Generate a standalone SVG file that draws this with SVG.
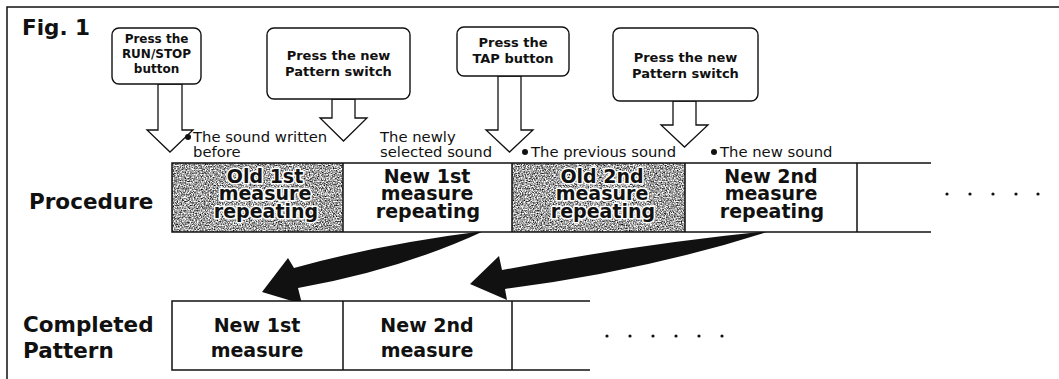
<svg xmlns="http://www.w3.org/2000/svg" width="1059" height="379" viewBox="0 0 1059 379">
<style>
.bx{fill:#fff;stroke:#111;stroke-width:1.4}
.bt{font-family:"DejaVu Sans",sans-serif;font-weight:bold;font-size:13px;fill:#111;text-anchor:middle}
.b1{font-size:12px}
.ha{fill:#fff;stroke:#111;stroke-width:1.3;stroke-linejoin:miter}
.lb{font-family:"DejaVu Sans",sans-serif;font-size:14.8px;fill:#111}
.ct{font-family:"DejaVu Sans",sans-serif;font-weight:bold;font-size:19px;fill:#111;text-anchor:middle}
.cg{stroke:#fff;stroke-width:3;paint-order:stroke;stroke-linejoin:round}
.cc{font-family:"DejaVu Sans",sans-serif;font-weight:bold;font-size:19px;fill:#111;text-anchor:middle}
.hd{font-family:"DejaVu Sans",sans-serif;font-weight:bold;font-size:21.5px;fill:#111}
.ln{stroke:#111;stroke-width:1.5;fill:none}
.cell{fill:#fff;stroke:none}
.dot{fill:#111}
.big{fill:#111}
</style>
<defs>
<filter id="grain" x="0" y="0" width="100%" height="100%" color-interpolation-filters="sRGB">
<feTurbulence type="fractalNoise" baseFrequency="0.75" numOctaves="3" seed="7" result="n"/>
<feColorMatrix in="n" type="matrix" values="1.9 0 0 0 -0.32  1.9 0 0 0 -0.32  1.9 0 0 0 -0.32  0 0 0 0 1"/>
</filter>
</defs>

<rect width="1059" height="379" fill="#fff"/>
<path class="ln" d="M7 379 V7 H1059"/>

<text class="hd" x="22" y="35">Fig. 1</text>

<g id="connectors">
<path class="big" d="M262 292 L288 258 L294 268 Q380 244 484 231 Q400 270 298 288 L302 304 Z"/>
<path class="big" d="M470 284 L499 256 L502 270 Q640 244 770 231 Q650 270 505 289 L507 300 Z"/>
<polygon class="ha" points="158,84 182,84 182,130 193,130 170,152 147,130 158,130"/>
<polygon class="ha" points="332,99 355,99 355,118 367,118 343.5,141 320,118 332,118"/>
<polygon class="ha" points="498,76 521,76 521,130 533,130 509.5,152 486,130 498,130"/>
<polygon class="ha" points="673,101 696,101 696,125 708,125 684.5,147 661,125 673,125"/>
</g>

<g id="box-runstop">
<rect class="bx" x="112" y="28" width="89" height="56" rx="7"/>
<text class="bt b1" x="156.5" y="43">Press the</text>
<text class="bt b1" x="156.5" y="58">RUN/STOP</text>
<text class="bt b1" x="156.5" y="73">button</text>
</g>
<g id="box-pattern1">
<rect class="bx" x="267" y="28" width="143" height="71" rx="7"/>
<text class="bt" x="338.5" y="60">Press the new</text>
<text class="bt" x="338.5" y="76">Pattern switch</text>
</g>
<g id="box-tap">
<rect class="bx" x="457" y="27" width="112" height="49" rx="7"/>
<text class="bt" x="513" y="47">Press the</text>
<text class="bt" x="513" y="63">TAP button</text>
</g>
<g id="box-pattern2">
<rect class="bx" x="613" y="28" width="145" height="73" rx="7"/>
<text class="bt" x="685.5" y="62">Press the new</text>
<text class="bt" x="685.5" y="78">Pattern switch</text>
</g>

<g id="labels">
<circle class="dot" cx="188" cy="137" r="3"/>
<text class="lb" x="193" y="142">The sound written</text>
<text class="lb" x="193" y="157">before</text>
<text class="lb" x="380" y="142">The newly</text>
<text class="lb" x="380" y="157">selected sound</text>
<circle class="dot" cx="525" cy="152" r="3"/>
<text class="lb" x="531" y="157">The previous sound</text>
<circle class="dot" cx="714" cy="152" r="3"/>
<text class="lb" x="720" y="157">The new sound</text>
</g>

<text class="hd" x="29" y="209">Procedure</text>

<g id="procedure-row">
<rect class="cell" x="172" y="163" width="759" height="69"/>
<rect x="172" y="163" width="171" height="69" fill="#fff" filter="url(#grain)"/>
<rect x="512" y="163" width="173" height="69" fill="#fff" filter="url(#grain)"/>
<path class="ln" d="M931 163 H172 V232 H931 M343 163 V232 M512 163 V232 M685 163 V232 M857 163 V232"/>
</g>
<g id="cell-old1">
<text class="ct cg" x="265" y="182.5">Old 1st</text>
<text class="ct cg" x="265" y="200">measure</text>
<text class="ct cg" x="266" y="218">repeating</text>
</g>
<g id="cell-new1">
<text class="ct" x="427" y="182.5">New 1st</text>
<text class="ct" x="427" y="200">measure</text>
<text class="ct" x="428" y="218">repeating</text>
</g>
<g id="cell-old2">
<text class="ct cg" x="602" y="182.5">Old 2nd</text>
<text class="ct cg" x="602" y="200">measure</text>
<text class="ct cg" x="603" y="218">repeating</text>
</g>
<g id="cell-new2">
<text class="ct" x="771" y="182.5">New 2nd</text>
<text class="ct" x="771" y="200">measure</text>
<text class="ct" x="772" y="218">repeating</text>
</g>
<g id="dots1">
<circle class="dot" cx="947" cy="194" r="1.6"/>
<circle class="dot" cx="970" cy="194" r="1.6"/>
<circle class="dot" cx="993" cy="194" r="1.6"/>
<circle class="dot" cx="1016" cy="194" r="1.6"/>
<circle class="dot" cx="1038" cy="194" r="1.6"/>
</g>

<text class="hd" x="23" y="332">Completed</text>
<text class="hd" x="23" y="358">Pattern</text>

<g id="completed-row">
<rect class="cell" x="172" y="301" width="418" height="69"/>
<path class="ln" d="M590 301 H172 V370 H590 M343 301 V370 M512 301 V370"/>
<text class="cc" x="257" y="332">New 1st</text>
<text class="cc" x="257" y="357">measure</text>
<text class="cc" x="427" y="332">New 2nd</text>
<text class="cc" x="427" y="357">measure</text>
</g>
<g id="dots2">
<circle class="dot" cx="607" cy="336" r="1.6"/>
<circle class="dot" cx="630" cy="336" r="1.6"/>
<circle class="dot" cx="653" cy="336" r="1.6"/>
<circle class="dot" cx="676" cy="336" r="1.6"/>
<circle class="dot" cx="699" cy="336" r="1.6"/>
<circle class="dot" cx="722" cy="336" r="1.6"/>
</g>
</svg>
